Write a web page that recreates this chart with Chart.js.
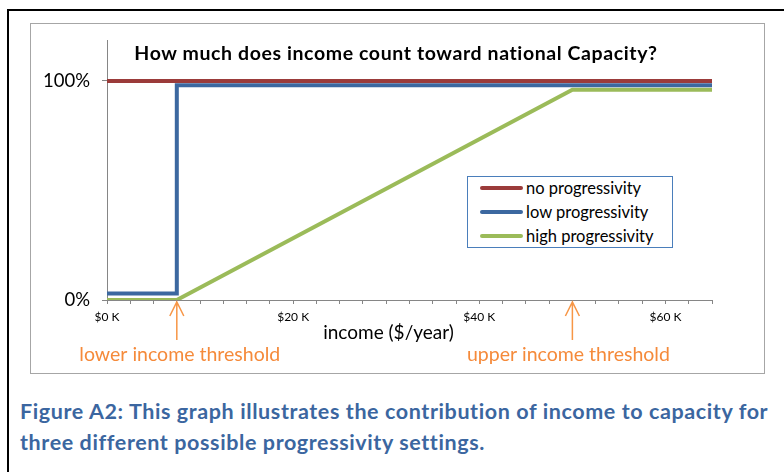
<!DOCTYPE html>
<html>
<head>
<meta charset="utf-8">
<script src="https://cdn.jsdelivr.net/npm/chart.js@4.4.1/dist/chart.umd.min.js"></script>
<style>
  html, body { margin: 0; padding: 0; background: #fff; }
  body { width: 784px; height: 472px; position: relative; overflow: hidden; font-family: Lato, "Liberation Sans", sans-serif; }
  #page { position: absolute; left: 7px; top: 9px; width: 800px; height: 480px; border-left: 2px solid #000; border-top: 2px solid #000; }
  #frame { position: absolute; left: 30px; top: 23px; width: 733px; height: 349px; border: 1px solid #a6a6a6; }
  #wrap { position: absolute; left: 30px; top: 23px; width: 734px; height: 350px; }
  #title { position: absolute; left: 100px; top: 41px; width: 592px; text-align: center; font-weight: bold; font-size: 19.5px; letter-spacing: 0.6px; color: #000; white-space: nowrap; }
  #legend { position: absolute; left: 467px; top: 176px; width: 204px; height: 70px; border: 1px solid #4a7ebb; background: #fff; }
  .row { position: absolute; left: 12px; height: 20px; display: flex; align-items: center; font-size: 16.5px; color: #000; white-space: nowrap; }
  .sw { width: 43px; height: 4px; border-radius: 2px; margin-right: 3px; }
  #caption { position: absolute; left: 20px; top: 396px; font-weight: bold; font-size: 21.5px; letter-spacing: 0.6px; line-height: 31px; color: #3b66a0; white-space: nowrap; }
</style>
</head>
<body>
<div id="page"></div>
<div id="frame"></div>
<div id="wrap"><canvas id="chart"></canvas></div>
<div id="title">How much does income count toward national Capacity?</div>
<div id="legend"></div>
<div id="caption">Figure A2: This graph illustrates the contribution of income to capacity for<br>three different possible progressivity settings.</div>
<script>
// income in $, share counted in %
const seriesNames = ['no progressivity', 'low progressivity', 'high progressivity'];
const seriesColors = ['#9b3b3a', '#3c68a0', '#9bbb59'];
const noIncome = [0, 65000];
const noShare = [100, 100];
const lowIncome = [0, 7500, 7500, 65000];
const lowShare = [3, 3, 98, 98];
const highIncome = [0, 7500, 50000, 65000];
const highShare = [0, 0, 96, 96];
const thresholds = [7500, 50000];
const thresholdLabels = ['lower income threshold', 'upper income threshold'];
const yTicks = [0, 100];
const xTitle = 'income ($/year)';

function pts(xs, ys) {
  return xs.map((x, i) => ({ x: x, y: ys[i] }));
}

const FONT = 'Lato, "Liberation Sans", sans-serif';

// orange arrows + labels under the x axis, and the axis title
const thresholdPlugin = {
  id: 'thresholds',
  afterDraw(chart) {
    const ctx = chart.ctx;
    const x = chart.scales.x;
    const tipY = x.top + 2;
    ctx.save();
    ctx.strokeStyle = '#f79646';
    ctx.fillStyle = '#f58a3a';
    ctx.lineWidth = 1.5;
    ctx.font = '19.5px ' + FONT;
    ctx.textAlign = 'center';
    ctx.textBaseline = 'middle';
    thresholds.forEach((t, i) => {
      const px = x.getPixelForValue(t);
      ctx.beginPath();
      ctx.moveTo(px, tipY);
      ctx.lineTo(px, tipY + 38);
      ctx.moveTo(px - 7, tipY + 14);
      ctx.lineTo(px, tipY);
      ctx.lineTo(px + 7, tipY + 14);
      ctx.stroke();
      ctx.fillText(thresholdLabels[i], px + (i === 0 ? 3 : -4), tipY + 53);
    });
    ctx.fillStyle = '#000';
    ctx.font = '19px ' + FONT;
    ctx.fillText(xTitle, (x.left + x.right) / 2 - 21, x.top + 33);
    ctx.restore();
  }
};

var ctx = document.getElementById('chart').getContext('2d');
ctx.canvas.width = 734;
ctx.canvas.height = 350;

var chart = new Chart(ctx, {
  type: 'line',
  data: {
    datasets: [
      { label: seriesNames[0], data: pts(noIncome, noShare) },
      { label: seriesNames[1], data: pts(lowIncome, lowShare) },
      { label: seriesNames[2], data: pts(highIncome, highShare) }
    ].map((d, i) => Object.assign(d, {
      borderColor: seriesColors[i],
      backgroundColor: seriesColors[i],
      borderWidth: 4,
      pointRadius: 0,
      tension: 0,
      fill: false,
      borderJoinStyle: 'miter',
      borderCapStyle: 'butt'
    }))
  },
  options: {
    responsive: false,
    animation: false,
    layout: { padding: { top: 17, right: 52, left: 0, bottom: 0 } },
    plugins: {
      legend: { display: false },
      tooltip: { enabled: false }
    },
    scales: {
      x: {
        type: 'linear',
        min: 0,
        max: 65000,
        afterFit: s => { s.height = 73; s.paddingLeft = 0; s.paddingRight = 0; },
        border: { color: '#868686', width: 1 },
        grid: { drawOnChartArea: false, drawTicks: true, tickLength: 4, color: '#868686' },
        ticks: {
          stepSize: 2500,
          autoSkip: false,
          maxRotation: 0,
          padding: 6,
          color: '#000',
          font: { family: FONT, size: 12 },
          callback: v => (v % 20000 === 0 ? '$' + (v / 1000) + ' K' : '')
        }
      },
      y: {
        min: 0,
        max: 118.7,
        // fixed axis width, and no extra room above the plot for tick labels
        afterFit: s => { s.width = 77; s.paddingTop = 0; s.paddingBottom = 0; },
        afterBuildTicks: s => { s.ticks = yTicks.map(v => ({ value: v })); },
        border: { color: '#868686', width: 1 },
        grid: { drawOnChartArea: false, drawTicks: true, tickLength: 5, color: '#868686' },
        ticks: {
          padding: 12,
          color: '#000',
          font: { family: FONT, size: 18.5 },
          callback: v => v + '%'
        }
      }
    }
  },
  plugins: [thresholdPlugin]
});

// boxed legend like the original
var legend = document.getElementById('legend');
chart.data.datasets.forEach((d, i) => {
  var row = document.createElement('div');
  row.className = 'row';
  row.style.top = (1 + i * 24) + 'px';
  var sw = document.createElement('div');
  sw.className = 'sw';
  sw.style.background = d.borderColor;
  row.appendChild(sw);
  row.appendChild(document.createTextNode(d.label));
  legend.appendChild(row);
});
</script>
</body>
</html>
